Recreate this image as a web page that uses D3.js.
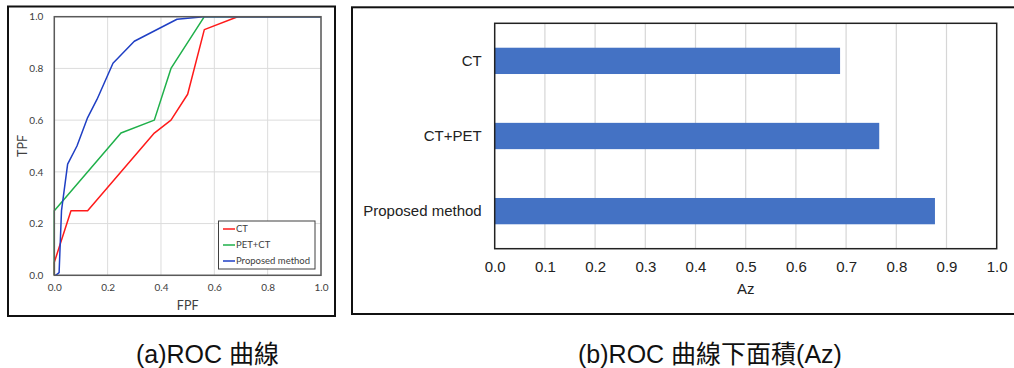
<!DOCTYPE html>
<html><head><meta charset="utf-8">
<script src="https://cdn.jsdelivr.net/npm/d3@7"></script>
<style>
html,body{margin:0;padding:0;background:#fff;}
svg{display:block;}
</style></head>
<body>
<svg id="c" width="1014" height="368"></svg>
<script>
// ROC data (FPF, TPF)
const rocCT = [[0,0],[0,0.05],[0.0625,0.25],[0.125,0.25],[0.375,0.55],[0.4375,0.6],[0.5,0.7],[0.5625,0.95],[0.6875,1],[1,1]];
const rocPETCT = [[0,0],[0,0.25],[0.25,0.55],[0.375,0.6],[0.4375,0.8],[0.5625,1],[1,1]];
const rocProposed = [[0,0],[0.005,0],[0.018,0.01],[0.027,0.25],[0.05,0.43],[0.085,0.5],[0.125,0.61],[0.16,0.68],[0.22,0.82],[0.3,0.905],[0.46,0.99],[0.56,1],[1,1]];
const rocNames = ["CT","PET+CT","Proposed method"];
const rocColors = ["#ff1a1a","#1fb04a","#1f3fc4"];
const rocTicks = [0,0.2,0.4,0.6,0.8,1.0];

// Az bar data
const azCategories = ["CT","CT+PET","Proposed method"];
const azValues = [0.688,0.766,0.877];
const azTicks = [0,0.1,0.2,0.3,0.4,0.5,0.6,0.7,0.8,0.9,1.0];

const captions = ["(a)ROC 曲線","(b)ROC 曲線下面積(Az)"];

const svg = d3.select("#c");

// ---------- Left panel ----------
svg.append("rect").attr("x",8).attr("y",6.5).attr("width",327).attr("height",309.5)
  .attr("fill","none").attr("stroke","#111").attr("stroke-width",2);

const L = {x0:54.3, x1:321, y0:275.3, y1:16.7};
const xs = d3.scaleLinear().domain([0,1]).range([L.x0,L.x1]);
const ys = d3.scaleLinear().domain([0,1]).range([L.y0,L.y1]);
const lf = "Lato, 'Open Sans', sans-serif";

const gl = svg.append("g");
gl.append("g").selectAll("line").data(rocTicks).join("line")
  .attr("x1",d=>xs(d)).attr("x2",d=>xs(d)).attr("y1",L.y1).attr("y2",L.y0)
  .attr("stroke","#dcdcdc").attr("stroke-width",1);
gl.append("g").selectAll("line").data(rocTicks).join("line")
  .attr("y1",d=>ys(d)).attr("y2",d=>ys(d)).attr("x1",L.x0).attr("x2",L.x1)
  .attr("stroke","#dcdcdc").attr("stroke-width",1);

const line = d3.line().x(d=>xs(d[0])).y(d=>ys(d[1]));
[rocCT,rocPETCT,rocProposed].forEach((s,i)=>{
  gl.append("path").datum(s).attr("d",line).attr("fill","none")
    .attr("stroke",rocColors[i]).attr("stroke-width",1.5).attr("stroke-linejoin","round");
});

gl.append("rect").attr("x",L.x0).attr("y",L.y1).attr("width",L.x1-L.x0).attr("height",L.y0-L.y1)
  .attr("fill","none").attr("stroke","#5a5a5a").attr("stroke-width",1.5);

const xAxL = d3.axisBottom(xs).tickValues(rocTicks).tickFormat(d3.format(".1f")).tickSize(0).tickPadding(9);
const gx = gl.append("g").attr("transform",`translate(0,${L.y0})`).call(xAxL);
gx.select(".domain").remove();
gx.selectAll("text").attr("font-family",lf).attr("font-size",10).attr("fill","#404040");
const yAxL = d3.axisLeft(ys).tickValues(rocTicks).tickFormat(d3.format(".1f")).tickSize(0).tickPadding(11);
const gy = gl.append("g").attr("transform",`translate(${L.x0},0)`).call(yAxL);
gy.select(".domain").remove();
gy.selectAll("text").attr("font-family",lf).attr("font-size",10).attr("fill","#404040");

gl.append("text").attr("x",(L.x0+L.x1)/2).attr("y",310).attr("text-anchor","middle")
  .attr("font-family",lf).attr("font-size",12.5).attr("fill","#404040").text("FPF");
gl.append("text").attr("transform",`translate(27,${(L.y0+L.y1)/2}) rotate(-90)`).attr("text-anchor","middle")
  .attr("font-family",lf).attr("font-size",12.5).attr("fill","#404040").text("TPF");

// legend
const lg = gl.append("g");
lg.append("rect").attr("x",218.5).attr("y",221).attr("width",96.5).attr("height",48)
  .attr("fill","#fff").attr("stroke","#404040").attr("stroke-width",1);
rocNames.forEach((n,i)=>{
  const yy = 229 + i*16;
  lg.append("line").attr("x1",223).attr("x2",235).attr("y1",yy).attr("y2",yy)
    .attr("stroke",rocColors[i]).attr("stroke-width",1.5);
  lg.append("text").attr("x",236).attr("y",yy+3.3).attr("font-family",lf).attr("font-size",9.5)
    .attr("fill","#404040").text(n);
});

// ---------- Right panel ----------
svg.append("rect").attr("x",352).attr("y",7.3).attr("width",670).attr("height",306.7)
  .attr("fill","none").attr("stroke","#111").attr("stroke-width",2);

const R = {x0:494.7, x1:996.7, y0:23.3, y1:248.7};
const bx = d3.scaleLinear().domain([0,1]).range([R.x0,R.x1]);
const by = d3.scaleBand().domain(azCategories).range([R.y0,R.y1]).paddingInner(0.65).paddingOuter(0.325);
const rf = "'Liberation Sans', Arial, sans-serif";

const gr = svg.append("g");
gr.append("g").selectAll("line").data(azTicks.slice(1,-1)).join("line")
  .attr("x1",d=>bx(d)).attr("x2",d=>bx(d)).attr("y1",R.y0).attr("y2",R.y1)
  .attr("stroke","#d6d6d6").attr("stroke-width",1.2);

gr.append("g").selectAll("rect").data(azCategories).join("rect")
  .attr("x",bx(0)).attr("y",d=>by(d)).attr("height",by.bandwidth())
  .attr("width",(d,i)=>bx(azValues[i])-bx(0)).attr("fill","#4472c4");

gr.append("rect").attr("x",R.x0).attr("y",R.y0).attr("width",R.x1-R.x0).attr("height",R.y1-R.y0)
  .attr("fill","none").attr("stroke","#222").attr("stroke-width",1.5);

const xAxR = d3.axisBottom(bx).tickValues(azTicks).tickFormat(d3.format(".1f")).tickSize(0).tickPadding(13);
const gxr = gr.append("g").attr("transform",`translate(0,${R.y1})`).call(xAxR);
gxr.select(".domain").remove();
gxr.selectAll("text").attr("font-family",rf).attr("font-size",15).attr("fill","#222");

const yAxR = d3.axisLeft(by).tickSize(0).tickPadding(13);
const gyr = gr.append("g").attr("transform",`translate(${R.x0},0)`).call(yAxR);
gyr.select(".domain").remove();
gyr.selectAll("text").attr("font-family",rf).attr("font-size",15).attr("fill","#222");

gr.append("text").attr("x",bx(0.5)).attr("y",293.5).attr("text-anchor","middle")
  .attr("font-family",rf).attr("font-size",15).attr("fill","#222").text("Az");

// ---------- captions ----------
const capX = [207.5,710];
captions.forEach((c,i)=>{
  svg.append("text").attr("x",capX[i]).attr("y",363).attr("text-anchor","middle")
    .attr("font-family","'Liberation Sans', 'Noto Sans CJK TC', sans-serif").attr("font-size",25)
    .attr("fill","#111").text(c);
});
</script>
</body></html>
